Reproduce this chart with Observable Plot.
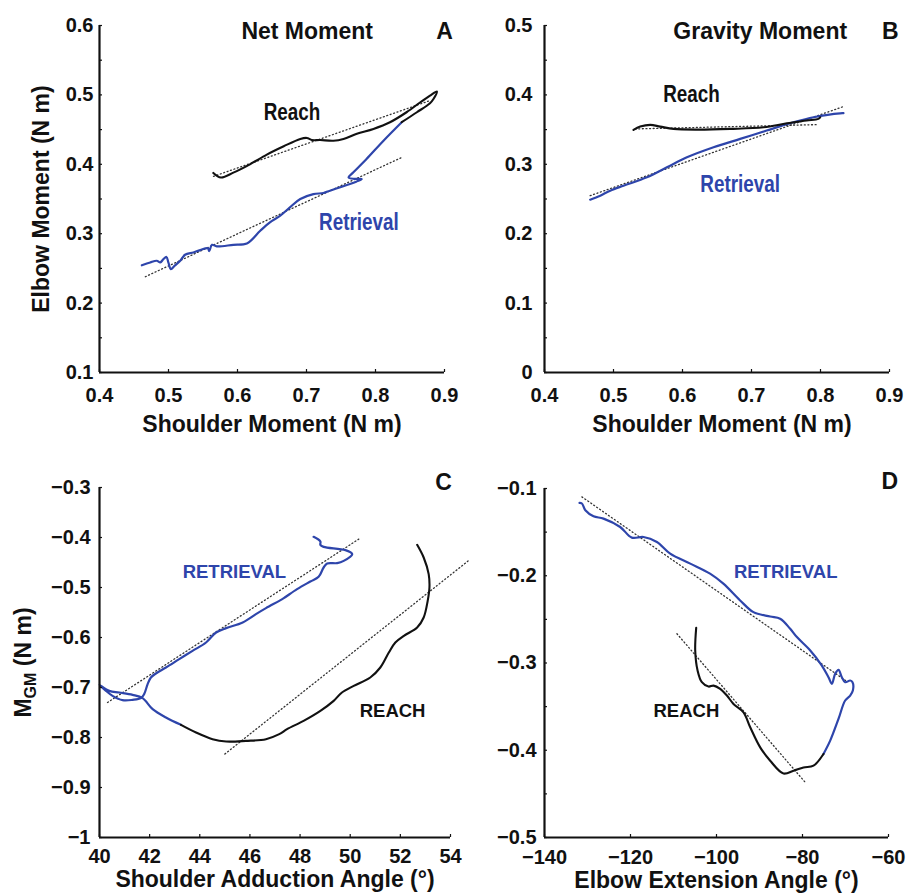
<!DOCTYPE html>
<html><head><meta charset="utf-8">
<script src="https://cdn.jsdelivr.net/npm/d3@7"></script>
<script src="https://cdn.jsdelivr.net/npm/@observablehq/plot@0.6"></script>
<style>
body{margin:0;background:#fff}
#wrap{position:relative;width:909px;height:893px}
.panel{position:absolute}
.panel svg{overflow:visible;background:transparent}
</style></head><body><div id="wrap"></div>
<script>
// ---------- Panel A: Net moment (shoulder vs elbow, N m) ----------
const netXTicks = [0.4, 0.5, 0.6, 0.7, 0.8, 0.9];
const netYTicks = [0.1, 0.2, 0.3, 0.4, 0.5, 0.6];
const netYMinor = [0.15, 0.25, 0.35, 0.45, 0.55];
const netReach = [[0.565,0.3875],[0.576,0.381],[0.594,0.388],[0.618,0.400],[0.6425,0.414],[0.667,0.426],[0.691,0.4365],[0.7005,0.438],[0.7077,0.435],[0.7198,0.435],[0.739,0.434],[0.7536,0.4365],[0.773,0.444],[0.797,0.451],[0.821,0.4606],[0.845,0.475],[0.865,0.4894],[0.879,0.499],[0.889,0.5048],[0.884,0.494],[0.879,0.488],[0.86,0.475],[0.838,0.4606]];
const netRetrieval = [[0.838,0.4606],[0.8116,0.434],[0.787,0.4077],[0.768,0.3885],[0.761,0.381],[0.770,0.379],[0.780,0.3788],[0.772,0.375],[0.763,0.3716],[0.749,0.367],[0.734,0.362],[0.7246,0.3587],[0.710,0.357],[0.691,0.35],[0.676,0.338],[0.662,0.326],[0.647,0.3163],[0.633,0.3043],[0.6136,0.286],[0.594,0.284],[0.570,0.2817],[0.563,0.284],[0.559,0.275],[0.557,0.279],[0.546,0.2764],[0.536,0.273],[0.524,0.2697],[0.517,0.261],[0.509,0.254],[0.5034,0.249],[0.500,0.258],[0.497,0.2665],[0.4928,0.2635],[0.488,0.2587],[0.483,0.261],[0.4735,0.2586],[0.4614,0.2545]];
const netReachFit = [[0.5652,0.3826],[0.879,0.4918]];
const netRetrievalFit = [[0.4664,0.238],[0.8383,0.410]];
const netLabels = [{text:"Reach", x:0.679, y:0.4745, series:"reach"},{text:"Retrieval", x:0.776, y:0.3163, series:"retrieval"}];
const netTitles = [{text:"Net Moment", x:0.701},{text:"A", x:0.9}];

// ---------- Panel B: Gravity moment ----------
const gravXTicks = [0.4, 0.5, 0.6, 0.7, 0.8, 0.9];
const gravYTicks = [0, 0.1, 0.2, 0.3, 0.4, 0.5];
const gravYMinor = [0.05, 0.15, 0.25, 0.35, 0.45];
const gravReach = [[0.529,0.3496],[0.5387,0.3543],[0.5532,0.3568],[0.5677,0.3543],[0.587,0.351],[0.6209,0.350],[0.669,0.351],[0.7174,0.3533],[0.7513,0.3591],[0.780,0.363],[0.797,0.3654],[0.7995,0.3675]];
const gravRetrieval = [[0.4662,0.249],[0.4808,0.2548],[0.4952,0.262],[0.5145,0.2692],[0.5484,0.2812],[0.5774,0.2956],[0.6064,0.31],[0.645,0.3245],[0.6836,0.3366],[0.722,0.3486],[0.7609,0.3605],[0.79,0.3678],[0.8285,0.3735],[0.8333,0.3736]];
const gravReachFit = [[0.5314,0.351],[0.797,0.3572]];
const gravRetrievalFit = [[0.4662,0.2548],[0.8333,0.3832]];
const gravLabels = [{text:"Reach", x:0.613, y:0.4005, series:"reach"},{text:"Retrieval", x:0.6836, y:0.2704, series:"retrieval"}];
const gravTitles = [{text:"Gravity Moment", x:0.7126},{text:"B", x:0.901}];

// ---------- Panel C: shoulder adduction angle vs M_GM ----------
const sagXTicks = [40, 42, 44, 46, 48, 50, 52, 54];
const sagYTicks = [-1, -0.9, -0.8, -0.7, -0.6, -0.5, -0.4, -0.3];
const sagReach = [[52.67,-0.4146],[52.93,-0.44],[53.13,-0.4733],[53.16,-0.50],[53.09,-0.5267],[52.93,-0.56],[52.67,-0.58],[52.14,-0.5967],[51.8,-0.61],[51.54,-0.63],[51.2,-0.66],[50.8,-0.68],[50.14,-0.6967],[49.67,-0.71],[49.34,-0.7267],[48.81,-0.7467],[48.14,-0.7667],[47.48,-0.7833],[47.17,-0.7933],[46.64,-0.8033],[45.84,-0.8067],[45.05,-0.808],[44.51,-0.8033],[43.85,-0.79],[43.25,-0.7747]];
const sagRetrieval = [[43.25,-0.7747],[42.65,-0.76],[42.12,-0.7433],[41.72,-0.7213],[41.32,-0.7147],[40.79,-0.71],[40.39,-0.7067],[40.0,-0.6947],[40.26,-0.7067],[40.52,-0.7167],[40.92,-0.7253],[41.32,-0.7247],[41.65,-0.7213],[41.78,-0.7133],[41.92,-0.6933],[42.05,-0.68],[42.25,-0.672],[42.65,-0.66],[43.18,-0.6433],[43.71,-0.6267],[44.25,-0.61],[44.65,-0.59],[45.05,-0.5813],[45.71,-0.57],[46.24,-0.5533],[46.64,-0.5413],[47.17,-0.5267],[47.35,-0.5213],[47.88,-0.5033],[48.41,-0.488],[48.74,-0.4787],[48.94,-0.46],[49.08,-0.452],[49.48,-0.4513],[49.74,-0.4467],[50.08,-0.4333],[49.81,-0.4253],[48.94,-0.4187],[48.81,-0.4147],[48.81,-0.408],[48.54,-0.3987]];
const sagReachFit = [[45.0,-0.833],[54.7,-0.447]];
const sagRetrievalFit = [[40.32,-0.73],[50.34,-0.4033]];
const sagLabels = [{text:"RETRIEVAL", x:45.38, y:-0.47, series:"retrieval"},{text:"REACH", x:51.69, y:-0.7473, series:"reach"}];
const sagTitles = [{text:"C", x:53.72}];

// ---------- Panel D: elbow extension angle vs M_GM ----------
const elbXTicks = [-140, -120, -100, -80, -60];
const elbYTicks = [-0.5, -0.4, -0.3, -0.2, -0.1];
const elbYMinor = [-0.45, -0.35, -0.25, -0.15];
const elbReach = [[-104.72,-0.2596],[-104.95,-0.2857],[-104.4,-0.3086],[-103.4,-0.322],[-101.86,-0.327],[-100.7,-0.3259],[-99.14,-0.3297],[-97.58,-0.3373],[-96.05,-0.3469],[-93.72,-0.3565],[-92.16,-0.3737],[-89.84,-0.3967],[-87.51,-0.412],[-84.42,-0.4266],[-82.09,-0.4235],[-79.77,-0.4197],[-77.44,-0.4177],[-75.12,-0.4043]];
const elbRetrieval = [[-75.12,-0.4043],[-73.56,-0.389],[-71.63,-0.3641],[-70.08,-0.343],[-68.91,-0.3373],[-68.29,-0.3316],[-68.37,-0.322],[-68.91,-0.3201],[-70.08,-0.322],[-70.85,-0.3163],[-71.63,-0.3078],[-72.4,-0.3124],[-73.18,-0.3239],[-73.95,-0.3163],[-75.5,-0.3029],[-78.2,-0.2856],[-81.3,-0.2703],[-82.86,-0.2608],[-85.2,-0.2493],[-87.51,-0.2467],[-91.4,-0.2417],[-94.5,-0.2283],[-98.4,-0.2091],[-101.5,-0.1976],[-106.1,-0.1861],[-110.77,-0.1747],[-113.86,-0.1613],[-116.98,-0.1556],[-119.7,-0.1563],[-122.4,-0.1441],[-126.28,-0.1345],[-128.6,-0.1318],[-130.5,-0.1249],[-131.3,-0.1172],[-131.86,-0.1165]];
const elbReachFit = [[-109.2,-0.2665],[-79.15,-0.438]];
const elbRetrievalFit = [[-131.3,-0.1096],[-70,-0.32]];
const elbLabels = [{text:"RETRIEVAL", x:-83.9, y:-0.1958, series:"retrieval"},{text:"REACH", x:-107, y:-0.355, series:"reach"}];
const elbTitles = [{text:"D", x:-59.7}];

// ---------- drawing ----------
const BLUE = "#2e45ab";
const BLACK = "#111";
const FONT = "'Liberation Sans', Arial, Helvetica, sans-serif";
const fmt = d3.format("~g");

function panel(c) {
  const fw = c.width - c.ml - c.mr, fh = c.height - c.mt - c.mb;
  const X = d => d[0], Y = d => d[1];
  const marks = [
    Plot.line(c.reachFit, {x: X, y: Y, stroke: "#333", strokeWidth: 1.3, strokeDasharray: "1,2.6"}),
    Plot.line(c.retrievalFit, {x: X, y: Y, stroke: "#333", strokeWidth: 1.3, strokeDasharray: "1,2.6"}),
    Plot.line(c.retrieval, {x: X, y: Y, stroke: BLUE, strokeWidth: 2.2, curve: "catmull-rom"}),
    Plot.line(c.reach, {x: X, y: Y, stroke: BLACK, strokeWidth: 2.1, curve: "catmull-rom"}),
    Plot.ruleX([c.xd[0]], {stroke: BLACK, strokeWidth: 2.2}),
    Plot.ruleY([c.yd[0]], {stroke: BLACK, strokeWidth: 2.2}),
    Plot.tickX(c.xTicks, {x: d => d, insetTop: fh - 3, stroke: BLACK, strokeWidth: 1.2}),
    Plot.tickY(c.yTicks.concat(c.yMinor || []), {y: d => d, insetRight: fw - 3, stroke: BLACK, strokeWidth: 1.2}),
    Plot.axisX({ticks: c.xTicks, tickSize: 0, tickPadding: c.xPad, tickFormat: fmt, label: null}),
    Plot.axisY({ticks: c.yTicks, tickSize: 0, tickPadding: c.yPad, tickFormat: fmt, label: null}),
    Plot.text([c.xLabel], {frameAnchor: "bottom", textAnchor: "middle", lineAnchor: "middle", dy: c.xLabelDy, dx: c.xLabelDx || 0, fontSize: 23, fontWeight: "bold", fill: BLACK}),
    Plot.text(c.titles, {x: "x", text: "text", frameAnchor: "top", textAnchor: "middle", lineAnchor: "middle", dy: c.titleDy, fontSize: 23, fontWeight: "bold", fill: BLACK}),
    Plot.text(c.labels.filter(d => d.series === "reach"), {x: "x", y: "y", text: "text", fontSize: c.labelSize, fontWeight: "bold", fill: BLACK}),
    Plot.text(c.labels.filter(d => d.series === "retrieval"), {x: "x", y: "y", text: "text", fontSize: c.labelSize, fontWeight: "bold", fill: BLUE})
  ];
  if (c.yLabel) marks.push(Plot.text([c.yLabel], {frameAnchor: "left", textAnchor: "middle", lineAnchor: "middle", rotate: -90, dx: c.yLabelDx, fontSize: 23, fontWeight: "bold", fill: BLACK}));
  const svg = Plot.plot({
    width: c.width, height: c.height,
    marginLeft: c.ml, marginRight: c.mr, marginTop: c.mt, marginBottom: c.mb,
    x: {domain: c.xd}, y: {domain: c.yd},
    style: {fontFamily: FONT, fontSize: "20px", fontWeight: "bold", color: BLACK, background: "transparent", overflow: "visible"},
    marks
  });
  const div = document.createElement("div");
  div.className = "panel";
  div.style.left = c.left + "px"; div.style.top = c.top + "px";
  div.appendChild(svg);
  document.getElementById("wrap").appendChild(div);
  // narrow (condensed) lettering for the in-plot series labels, as in the original
  if (c.narrow) {
    const names = c.labels.map(d => d.text);
    d3.select(svg).selectAll("text").filter(function(){ return names.includes(this.textContent); }).each(function(){
      const w = this.getComputedTextLength();
      this.setAttribute("textLength", (w * c.narrow).toFixed(1));
      this.setAttribute("lengthAdjust", "spacingAndGlyphs");
    });
  }
  return svg;
}

panel({left: 0, top: 0, width: 454, height: 446, ml: 99, mr: 10, mt: 25, mb: 74,
  xd: [0.4, 0.9], yd: [0.1, 0.6], xTicks: netXTicks, yTicks: netYTicks, yMinor: netYMinor,
  xPad: 15, yPad: 6, reach: netReach, retrieval: netRetrieval, reachFit: netReachFit, retrievalFit: netRetrievalFit,
  labels: netLabels, titles: netTitles, titleDy: 6, labelSize: 23, narrow: 0.82,
  xLabel: "Shoulder Moment (N m)", xLabelDy: 52, yLabel: "Elbow Moment (N m)", yLabelDx: -58});

panel({left: 454, top: 0, width: 455, height: 446, ml: 90, mr: 20, mt: 25, mb: 74,
  xd: [0.4, 0.9], yd: [0, 0.5], xTicks: gravXTicks, yTicks: gravYTicks, yMinor: gravYMinor,
  xPad: 15, yPad: 12, reach: gravReach, retrieval: gravRetrieval, reachFit: gravReachFit, retrievalFit: gravRetrievalFit,
  labels: gravLabels, titles: gravTitles, titleDy: 6, labelSize: 23, narrow: 0.82,
  xLabel: "Shoulder Moment (N m)", xLabelDy: 52, xLabelDx: 5});

panel({left: 454, top: 446, width: 455, height: 447, ml: 90, mr: 21, mt: 42, mb: 56,
  xd: [-140, -60], yd: [-0.5, -0.1], xTicks: elbXTicks, yTicks: elbYTicks, yMinor: elbYMinor,
  xPad: 12, yPad: 8, reach: elbReach, retrieval: elbRetrieval, reachFit: elbReachFit, retrievalFit: elbRetrievalFit,
  labels: elbLabels, titles: elbTitles, titleDy: -6.5, labelSize: 18.5,
  xLabel: "Elbow Extension Angle (°)", xLabelDy: 43});

const svgC = panel({left: 0, top: 446, width: 454, height: 447, ml: 99, mr: 4, mt: 41, mb: 56,
  xd: [40, 54], yd: [-1, -0.3], xTicks: sagXTicks, yTicks: sagYTicks, yMinor: [],
  xPad: 11, yPad: 9, reach: sagReach, retrieval: sagRetrieval, reachFit: sagReachFit, retrievalFit: sagRetrievalFit,
  labels: sagLabels, titles: sagTitles, titleDy: -5, labelSize: 18.5,
  xLabel: "Shoulder Adduction Angle (°)", xLabelDy: 42, yLabel: "MGM (N m)", yLabelDx: -76});

// subscript for M_GM
d3.select(svgC).selectAll("text").filter(function(){ return this.textContent === "MGM (N m)"; }).each(function(){
  const t = d3.select(this);
  t.text(null);
  t.append("tspan").text("M");
  t.append("tspan").attr("font-size", 16).attr("dy", 5).text("GM");
  t.append("tspan").attr("dy", -5).text(" (N m)");
});
</script></body></html>
